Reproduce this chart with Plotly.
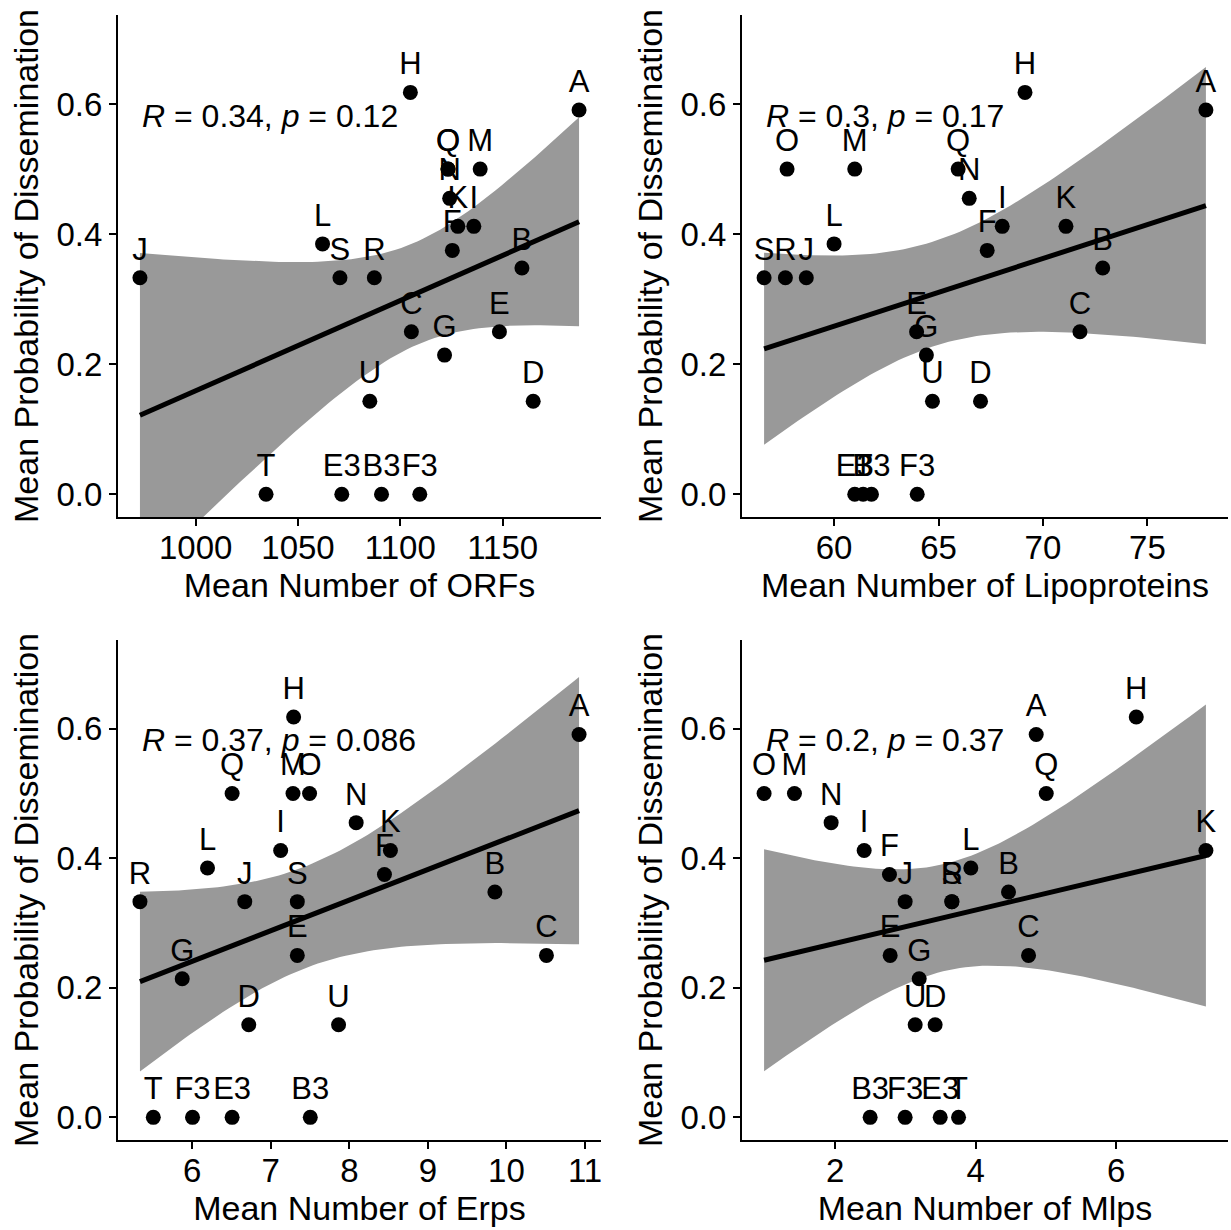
import numpy as np
import plotly.graph_objects as go

labels = ["A","B","C","D","E","F","G","H","I","J","K","L","M","N","O","Q","R","S","T","U","B3","E3","F3"]
prob = [0.591,0.348,0.25,0.143,0.25,0.375,0.214,0.618,0.412,0.333,0.412,0.385,0.5,0.455,0.5,0.5,0.333,0.333,0.0,0.143,0.0,0.0,0.0]
orfs = [1187.3,1159.4,1105.4,1164.9,1148.4,1125.4,1121.6,1104.9,1135.9,972.8,1128.1,1062.0,1139.0,1124.1,1123.3,1123.3,1087.3,1070.5,1034.4,1085.1,1090.8,1071.4,1109.5]
lipo = [77.80,72.86,71.77,67.01,63.95,67.33,64.42,69.14,68.05,58.67,71.10,60.0,60.99,66.47,57.75,65.94,57.67,56.65,61.39,64.71,61.79,60.99,63.98]
erps = [10.924,9.853,10.509,6.720,7.338,8.447,5.873,7.291,7.126,6.669,8.523,6.195,7.283,8.087,7.494,6.508,5.335,7.338,5.505,7.863,7.503,6.508,6.004]
mlps = [4.861,4.467,4.752,3.423,2.783,2.773,3.196,6.285,2.413,2.996,7.276,3.931,1.421,1.943,0.989,5.004,3.661,3.661,3.756,3.139,2.498,3.495,2.996]

x_titles = ["Mean Number of ORFs","Mean Number of Lipoproteins","Mean Number of Erps","Mean Number of Mlps"]
cor_labels = ["<i>R</i> = 0.34, <i>p</i> = 0.12","<i>R</i> = 0.3, <i>p</i> = 0.17",
              "<i>R</i> = 0.37, <i>p</i> = 0.086","<i>R</i> = 0.2, <i>p</i> = 0.37"]
y_title = "Mean Probability of Dissemination"
x_dticks = [50, 5, 1, 2]
y_ticks = [0.0, 0.2, 0.4, 0.6]

W, H = 1231, 1230
FONT = "Liberation Sans, Arial, sans-serif"
T_CRIT = 2.0796  # t(0.975, df=21)

# panel pixel boxes (left, right, top, bottom)
boxes = [(118, 601, 15, 517), (742, 1228, 15, 517),
         (118, 601, 640, 1140), (742, 1228, 640, 1140)]

fig = go.Figure()
y = np.array(prob)
xs_all = [orfs, lipo, erps, mlps]

for i, (xv, box) in enumerate(zip(xs_all, boxes)):
    x = np.array(xv)
    n = len(x)
    b, a = np.polyfit(x, y, 1)
    resid = y - (a + b * x)
    s = np.sqrt(np.sum(resid**2) / (n - 2))
    xbar = x.mean()
    sxx = np.sum((x - xbar)**2)
    grid = np.linspace(x.min(), x.max(), 80)
    fit = a + b * grid
    se = s * np.sqrt(1.0 / n + (grid - xbar)**2 / sxx)
    lo, hi = fit - T_CRIT * se, fit + T_CRIT * se
    xa = "x" if i == 0 else f"x{i+1}"
    ya = "y" if i == 0 else f"y{i+1}"
    fig.add_trace(go.Scatter(x=np.concatenate([grid, grid[::-1]]), y=np.concatenate([hi, lo[::-1]]),
                             fill="toself", fillcolor="#999999", line=dict(width=0), mode="lines",
                             hoverinfo="skip", showlegend=False, xaxis=xa, yaxis=ya))
    fig.add_trace(go.Scatter(x=grid, y=fit, mode="lines", line=dict(color="black", width=5),
                             showlegend=False, xaxis=xa, yaxis=ya))
    fig.add_trace(go.Scatter(x=x, y=y, mode="markers+text", text=labels, textposition="top center",
                             textfont=dict(family=FONT, size=31, color="black"),
                             marker=dict(color="black", size=15), cliponaxis=False,
                             showlegend=False, xaxis=xa, yaxis=ya))
    span = x.max() - x.min()
    xr = [x.min() - 0.05 * span, x.max() + 0.05 * span]
    l, r, t, bt = box
    axis_common = dict(showline=True, linecolor="black", linewidth=2, ticks="outside", ticklen=7,
                       tickwidth=2, tickcolor="black", showgrid=False, zeroline=False,
                       tickfont=dict(family=FONT, size=33, color="black"))
    fig.layout[("xaxis" if i == 0 else f"xaxis{i+1}")] = dict(
        domain=[l / W, r / W], range=xr, anchor=ya, dtick=x_dticks[i], ticklabelstandoff=-7,
        title=dict(text=x_titles[i], font=dict(family=FONT, size=34, color="black"), standoff=8),
        **axis_common)
    fig.layout[("yaxis" if i == 0 else f"yaxis{i+1}")] = dict(
        domain=[1 - bt / H, 1 - t / H], range=[-0.035, 0.737], anchor=xa, tickvals=y_ticks,
        tickformat=".1f",
        title=dict(text=y_title, font=dict(family=FONT, size=34, color="black"), standoff=8),
        **axis_common)
    fig.add_annotation(x=x.min(), y=0.582, xref=xa, yref=ya, text=cor_labels[i], showarrow=False,
                       xanchor="left", yanchor="middle",
                       font=dict(family=FONT, size=32, color="black"))

fig.update_layout(width=W, height=H, margin=dict(l=0, r=0, t=0, b=0),
                  plot_bgcolor="white", paper_bgcolor="white",
                  font=dict(family=FONT, color="black"))
fig.write_html("out.html")
